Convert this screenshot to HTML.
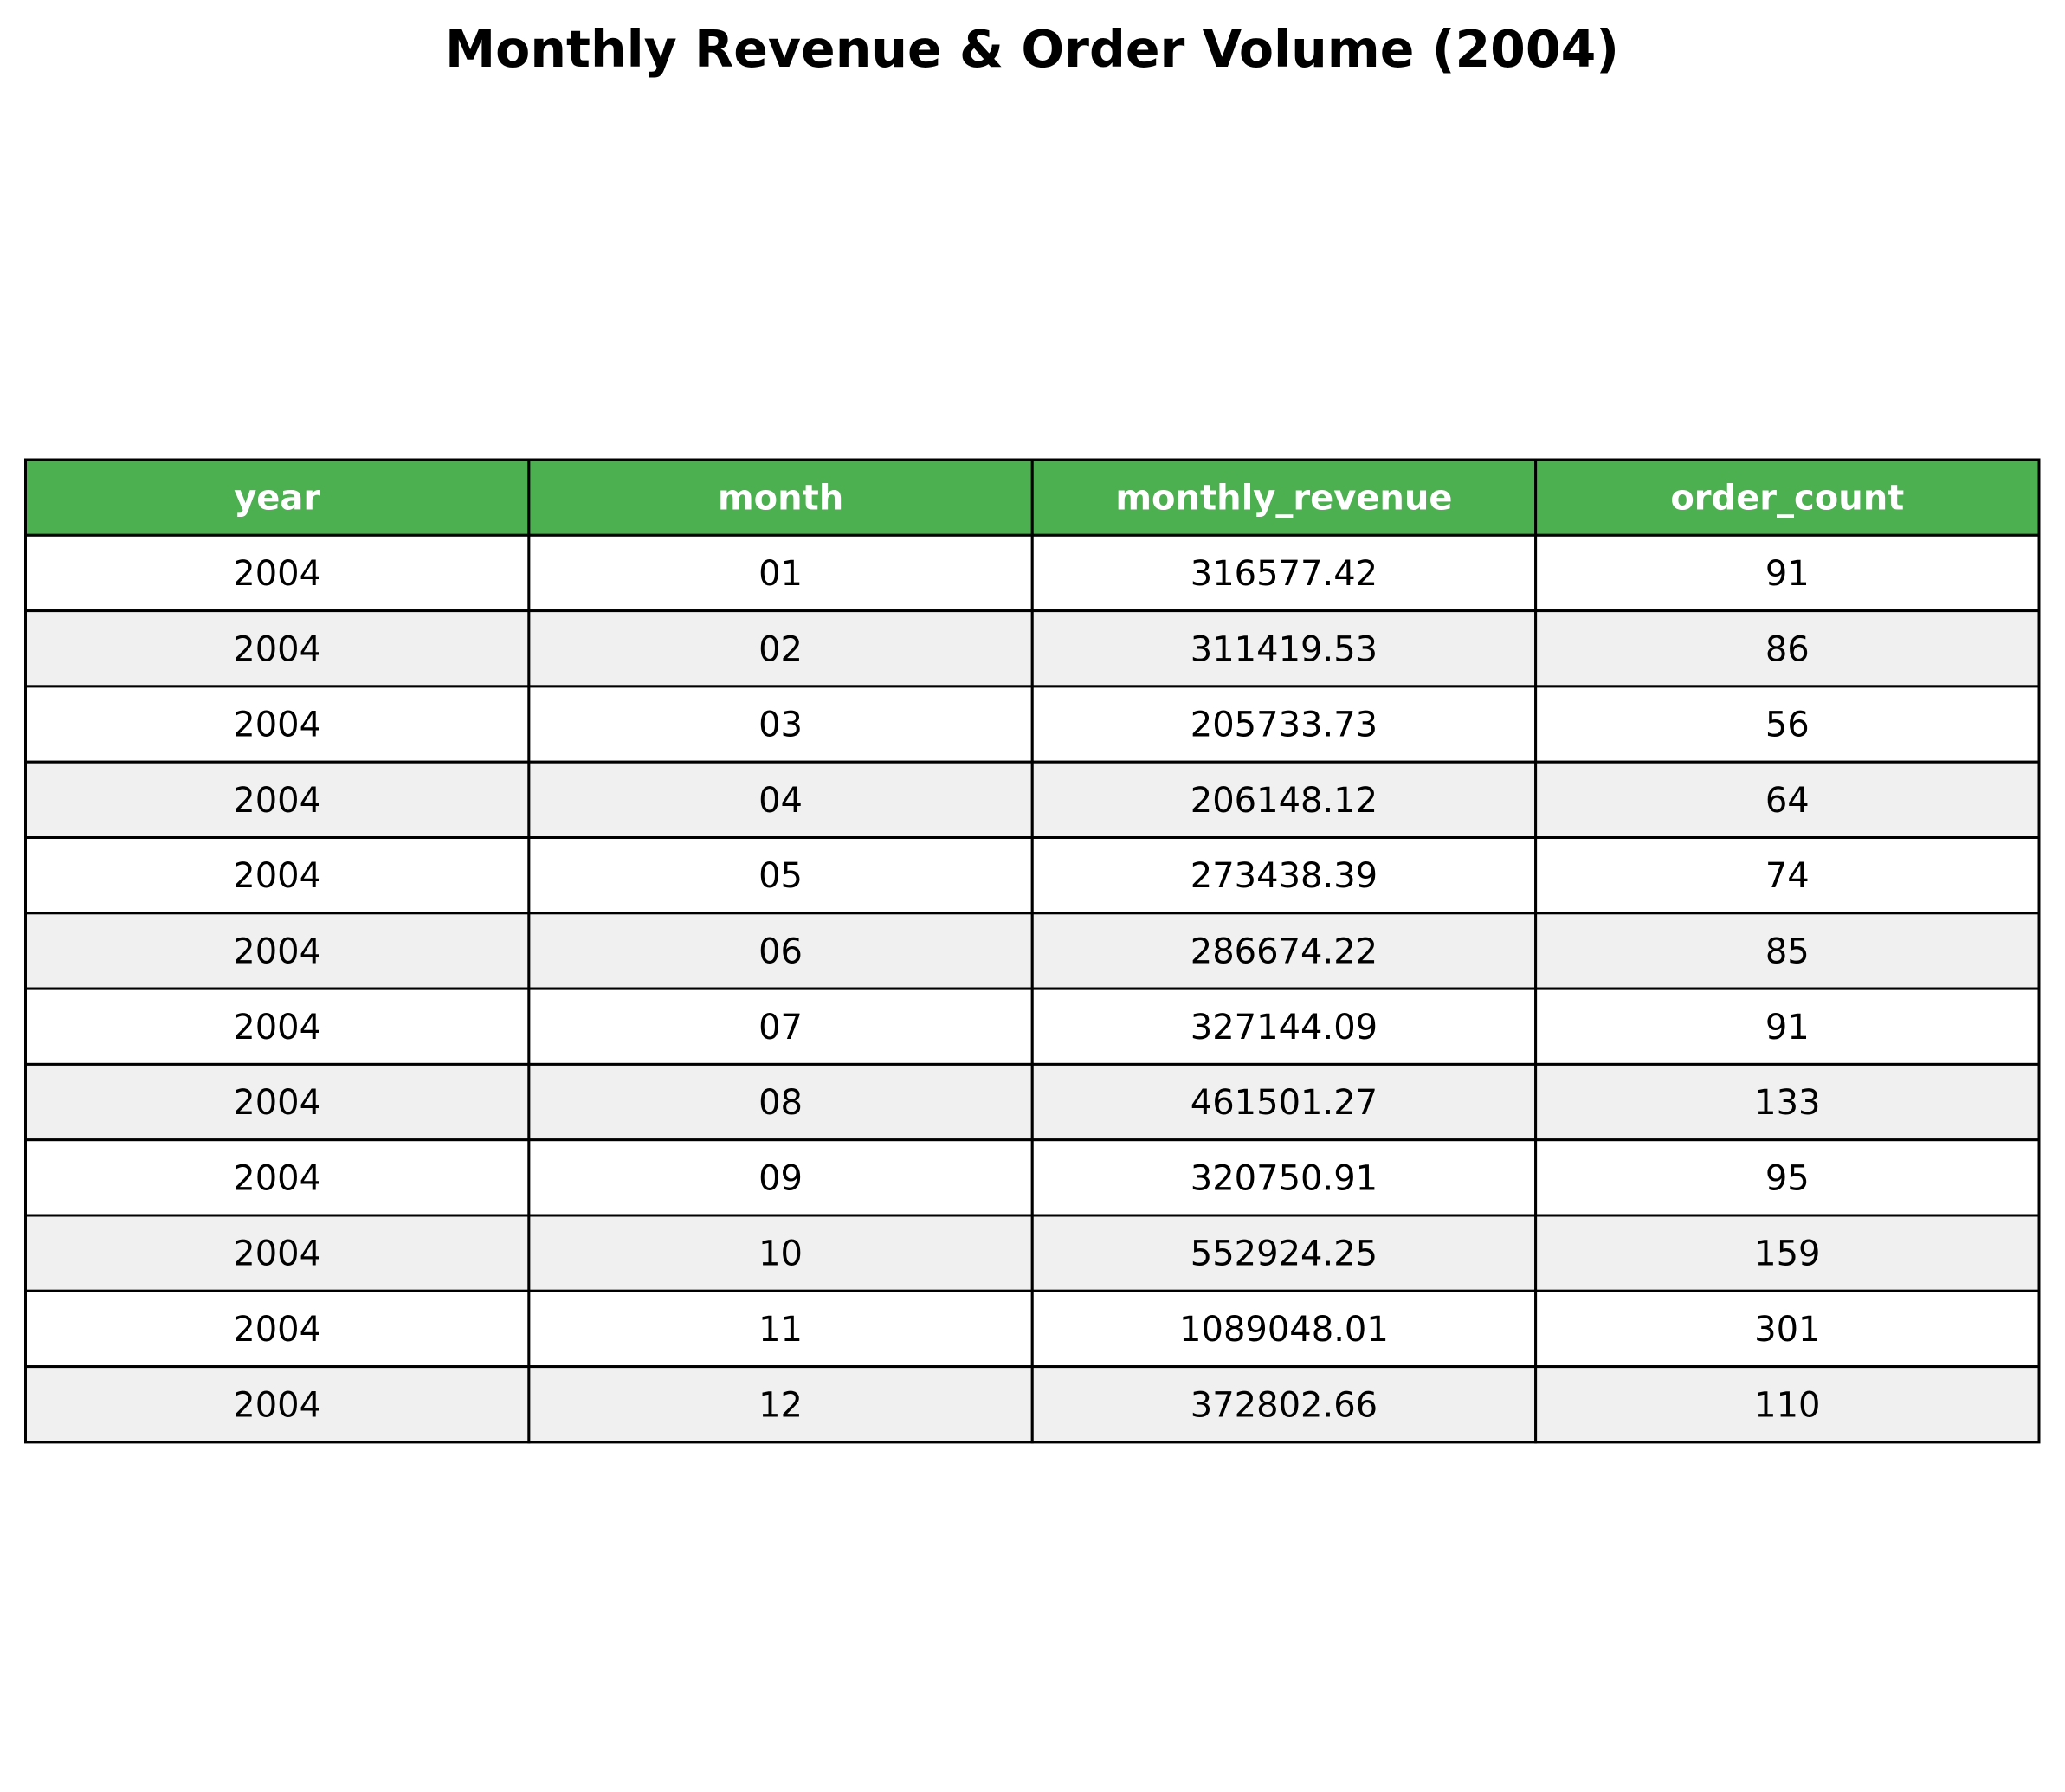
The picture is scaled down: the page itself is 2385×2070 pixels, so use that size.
<!DOCTYPE html>
<html><head><meta charset="utf-8"><style>
html,body{margin:0;padding:0;background:#fff;}
svg{display:block;font-family:"DejaVu Sans","Liberation Sans",sans-serif;}
</style></head><body>
<svg id="chart" width="2385" height="2070" viewBox="0 0 2385 2070" xmlns="http://www.w3.org/2000/svg">
<rect width="2385" height="2070" fill="#fff"/>
<text x="1192" y="77" text-anchor="middle" font-size="58.5" font-weight="bold" fill="#000">Monthly Revenue &amp; Order Volume (2004)</text>
<g id="tbl"></g>
</svg>
<script>
const headers = ["year","month","monthly_revenue","order_count"];
const years = ["2004","2004","2004","2004","2004","2004","2004","2004","2004","2004","2004","2004"];
const months = ["01","02","03","04","05","06","07","08","09","10","11","12"];
const revenue = ["316577.42","311419.53","205733.73","206148.12","273438.39","286674.22","327144.09","461501.27","320750.91","552924.25","1089048.01","372802.66"];
const orders = ["91","86","56","64","74","85","91","133","95","159","301","110"];

const NS="http://www.w3.org/2000/svg";
const tblG=document.getElementById('tbl');
const tblLeft=29.5, tblRight=2355, tblTop=531, rowH=87.3;
const colW=(tblRight-tblLeft)/headers.length;
function mk(tag,attrs){const e=document.createElementNS(NS,tag);for(const k in attrs)e.setAttribute(k,attrs[k]);return e;}
function cell(r,c,text,fill,bold,color){
  const x=tblLeft+c*colW, y=tblTop+r*rowH;
  const rect=mk('rect',{x:x,y:y,width:colW,height:rowH,fill:fill,stroke:'#000','stroke-width':3});
  
  
  tblG.appendChild(rect);
  const t=mk('text',{x:x+colW/2,y:y+rowH/2+14,'text-anchor':'middle','font-size':40,fill:color});
  if(bold)t.setAttribute('font-weight','bold');
  t.textContent=text;
  
  
  tblG.appendChild(t);
}
headers.forEach((h,c)=>cell(0,c,h,'#4caf50',true,'#fff'));
for(let i=0;i<months.length;i++){
  const fill=i%2===0?'#ffffff':'#f0f0f0';
  [years[i],months[i],revenue[i],orders[i]].forEach((v,c)=>cell(i+1,c,v,fill,false,'#000'));
}
</script>
</body></html>
